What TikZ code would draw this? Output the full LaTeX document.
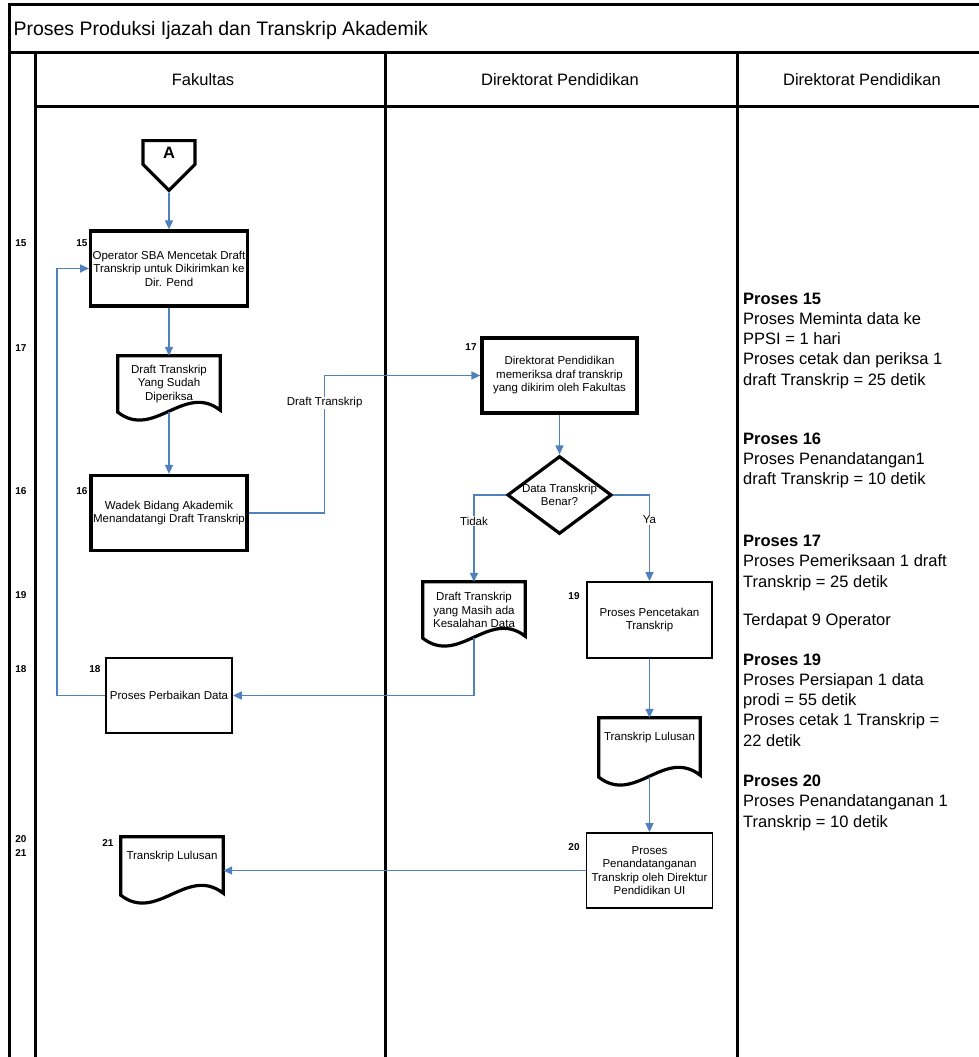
\documentclass[tikz,border=0pt]{standalone}
\usepackage{fontspec}
\setmainfont{Liberation Sans}
\usetikzlibrary{arrows.meta,shapes.geometric,shapes.symbols}

\definecolor{flowblue}{RGB}{79,129,189}

% outline of a document symbol around a named node
\newcommand{\docshape}[1]{%
  \draw[thickline] (#1.north west) -- (#1.north east) -- ([yshift=2pt]#1.south east)
    .. controls ([xshift=-36pt,yshift=30pt]#1.south east) and ([xshift=36pt,yshift=-28pt]#1.south west) .. (#1.south west) -- cycle;}

\begin{document}
\begin{tikzpicture}[x=1pt, y=-1pt,
        frame/.style={line width=3pt},
        thickline/.style={line width=3.2pt, line join=miter},
        procbox/.style={draw, line width=3.2pt, align=center, inner sep=2pt, minimum width=156pt, minimum height=75pt, font=\fontsize{11.5}{13.5}\selectfont},
        thinbox/.style={procbox, line width=1.8pt, minimum width=126pt},
        docnode/.style={align=center, inner sep=0pt, minimum width=102pt, minimum height=56pt, font=\fontsize{11.5}{13.5}\selectfont},
        decision/.style={diamond, draw, line width=3.2pt, aspect=1.34, inner sep=0pt, minimum width=102pt, minimum height=76pt, align=center, font=\fontsize{11.5}{13.5}\selectfont},
        connector/.style={signal, signal to=south, signal from=nothing, draw, line width=3.2pt, minimum width=52pt, minimum height=33pt, font=\bfseries\fontsize{16.5}{18}\selectfont},
        flow/.style={draw=flowblue, line width=1.6pt, -{Triangle[length=9pt,width=8pt]}},
        flowlabel/.style={fill=white, inner sep=1pt, font=\fontsize{11.5}{13.5}\selectfont},
        num/.style={font=\bfseries\fontsize{10}{12}\selectfont},
        lanehead/.style={font=\fontsize{16.5}{20}\selectfont},
        note/.style={anchor=north west, align=left, inner sep=0pt, font=\fontsize{16.5}{20.3}\selectfont}
    ]
    \useasboundingbox (0,0) rectangle (979,1057);

    % Rahmen dan jalur
    \draw[frame] (979,5) -- (9,5) -- (9,1057);
    \draw[frame] (9,53) -- (979,53);
    \draw[frame] (35,53) -- (35,1057);
    \draw[frame] (35,106) -- (979,106);
    \draw[frame] (385,53) -- (385,1057);
    \draw[frame] (737,53) -- (737,1057);

    \node[anchor=west, font=\fontsize{19.5}{22}\selectfont] (judul) at (10,30) {Proses Produksi Ijazah dan Transkrip Akademik};
    \node[lanehead] (laneFakultas) at (203,80) {Fakultas};
    \node[lanehead] (laneDirpen) at (560,80) {Direktorat Pendidikan};
    \node[lanehead] (laneDirpenB) at (862,80) {Direktorat Pendidikan};

    % Nomor di kolom kiri
    \node[num] (k15) at (21,243) {15};
    \node[num] (k17) at (21,348) {17};
    \node[num] (k16) at (21,491) {16};
    \node[num] (k19) at (21,595) {19};
    \node[num] (k18) at (21,669) {18};
    \node[num] (k20) at (21,839) {20};
    \node[num] (k21) at (21,853) {21};

    % Simbol
    \node[connector, anchor=north] (conA) at (169,139) {A};
    \node[procbox] (box15) at (169,268.5) {Operator SBA Mencetak Draft\\Transkrip untuk Dikirimkan ke\\Dir. Pend};
    \node[docnode] (doc1) at (169,384) {Draft Transkrip\\Yang Sudah\\Diperiksa};
    \node[procbox] (box16) at (169,513) {Wadek Bidang Akademik\\Menandatangi Draft Transkrip};
    \node[procbox, minimum width=155pt] (box17) at (559.5,375.5) {Direktorat Pendidikan\\memeriksa draf transkrip\\yang dikirim oleh Fakultas};
    \node[decision] (check) at (559.5,495) {Data Transkrip\\Benar?};
    \node[docnode] (doc2) at (474,610) {Draft Transkrip\\yang Masih ada\\Kesalahan Data};
    \node[thinbox] (box18) at (169,695.5) {Proses Perbaikan Data};
    \node[thinbox, minimum width=125pt, minimum height=76pt] (box19) at (649.5,620) {Proses Pencetakan\\Transkrip};
    \node[docnode, minimum width=101pt, minimum height=59pt] (doc3) at (649.5,747.5) {Transkrip Lulusan\\[8pt]};
    \node[thinbox] (box20) at (649.5,870.5) {Proses\\Penandatanganan\\Transkrip oleh Direktur\\Pendidikan UI};
    \node[docnode, minimum height=58pt] (doc4) at (172,866) {Transkrip Lulusan\\[8pt]};

    \docshape{doc1}
    \docshape{doc2}
    \docshape{doc3}
    \docshape{doc4}

    \node[num] (n15) at (82,243) {15};
    \node[num] (n16) at (82,491) {16};
    \node[num] (n17) at (471,347) {17};
    \node[num] (n18) at (95,669) {18};
    \node[num] (n19) at (574,596) {19};
    \node[num] (n20) at (574,847) {20};
    \node[num] (n21) at (108,843) {21};

    % Panah
    \draw[flow] (conA) -- (box15);
    \draw[flow] (box15) -- (doc1);
    \draw[flow] (doc1) -- (box16);
    \draw[flow] (box16.east) -- ++(76,0) |- node[flowlabel, pos=0.4] {Draft Transkrip} (box17.west);
    \draw[flow] (box17) -- (check);
    \draw[flow] (check.west) -| node[flowlabel, pos=0.65] {Tidak} (doc2.north);
    \draw[flow] (check.east) -| node[flowlabel, pos=0.645] {Ya} (box19.north);
    \draw[flow] (doc2.south) |- (box18.east);
    \draw[flow] (box18.west) -- ++(-48,0) |- (box15.west);
    \draw[flow] (box19) -- (doc3);
    \draw[flow] (doc3) -- (box20);
    \draw[flow] (box20.west) -- (box20.west -| doc4.east);

    % Keterangan waktu
    \node[note] (waktu) at (743,292.5) {\textbf{Proses 15}\\Proses Meminta data ke\\PPSI = 1 hari\\Proses cetak dan periksa 1\\draft Transkrip = 25 detik\\[38.5pt]
        \textbf{Proses 16}\\Proses Penandatangan1\\draft Transkrip = 10 detik\\[41.5pt]
        \textbf{Proses 17}\\Proses Pemeriksaan 1 draft\\Transkrip = 25 detik\\[18.4pt]
        Terdapat 9 Operator\\[19pt]
        \textbf{Proses 19}\\Proses Persiapan 1 data\\prodi = 55 detik\\Proses cetak 1 Transkrip =\\22 detik\\[20pt]
        \textbf{Proses 20}\\Proses Penandatanganan 1\\Transkrip = 10 detik};
\end{tikzpicture}
\end{document}
